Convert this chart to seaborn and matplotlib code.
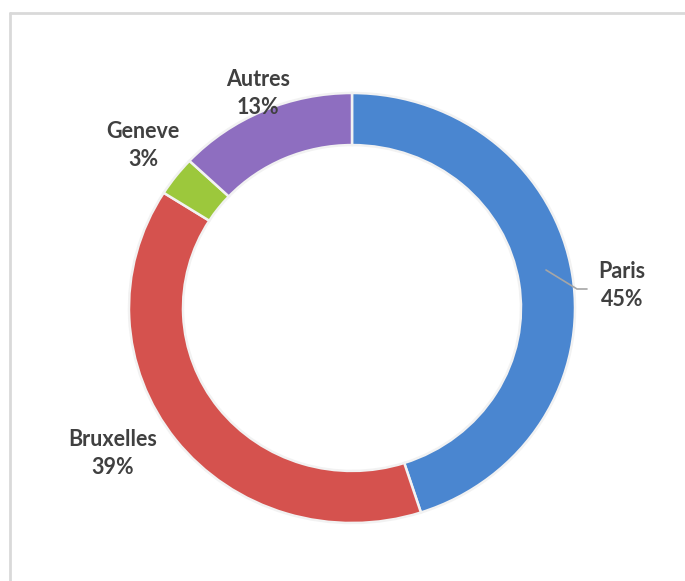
import matplotlib
matplotlib.use("Agg")
import matplotlib.pyplot as plt
import seaborn as sns

# Data
cities = ["Paris", "Bruxelles", "Geneve", "Autres"]
shares = [45, 39, 3, 13]
colors = ["#4A86D0", "#D5524E", "#9CC83C", "#8E6EC0"]

sns.set_theme(style="white")
plt.rcParams['font.family'] = ['Lato', 'DejaVu Sans']

W, H = 685, 581
RX, RY = 223, 215
S = RX / RY  # vertical squash so the ring is slightly wider than tall


def py(y):
    """pixel row (from top) -> data y"""
    return (H - y) * S


fig = plt.figure(figsize=(W / 100, H / 100), dpi=100)
ax = fig.add_axes([0, 0, 1, 1])

cx, cy = 352, 308
ring = 54

palette = sns.color_palette(colors)
wedges, _ = ax.pie(shares, colors=palette, startangle=90, counterclock=False,
                   radius=RX, center=(cx, py(cy)), frame=True,
                   wedgeprops=dict(width=ring, edgecolor="#f2f2f2", linewidth=1.8))
ax.set_aspect('auto')
ax.set_xlim(0, W)
ax.set_ylim(0, H * S)
ax.axis('off')

# Frame (top and left borders)
ax.plot([10, W + 5], [py(13), py(13)], color="#d9d9d9", lw=2, clip_on=False)
ax.plot([10, 10], [py(13), py(H + 5)], color="#d9d9d9", lw=2, clip_on=False)

# Labels
label_pos = {
    "Paris": (622, 272),
    "Bruxelles": (113, 440),
    "Geneve": (143, 131),
    "Autres": (258, 80),
}
txt_color = "#404040"
for name, val in zip(cities, shares):
    x, y = label_pos[name]
    ax.text(x, py(y), name, ha="center", va="center", fontsize=15.5,
            fontweight="bold", color=txt_color)
    ax.text(x, py(y + 28), f"{val}%", ha="center", va="center", fontsize=15.5,
            fontweight="bold", color=txt_color)

# Leader line for Paris
ax.plot([546, 577, 587], [py(270), py(289), py(289)], color="#a6a6a6", lw=1.2)

fig.savefig("out.png", dpi=100)
